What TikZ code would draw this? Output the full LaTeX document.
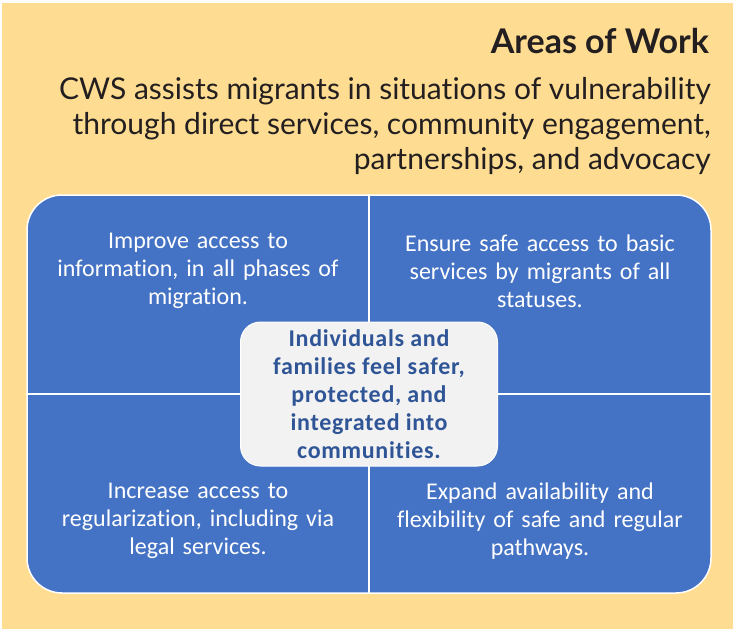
\documentclass[tikz,border=0pt]{standalone}
\usepackage{fontspec}
\setmainfont[Ligatures=NoCommon]{Lato}
\newfontfamily\bodyfont[Ligatures=NoCommon]{Carlito}
\newfontfamily\hubfont[Ligatures=NoCommon, LetterSpace=3]{Carlito}
\usepackage{tikz}
\definecolor{paper}{RGB}{254,220,145}
\definecolor{panelblue}{RGB}{68,114,196}
\definecolor{hubfill}{RGB}{242,242,242}
\definecolor{hubtext}{RGB}{47,85,151}
\definecolor{inkdark}{RGB}{35,31,32}

\begin{document}
\begin{tikzpicture}[x=1pt, y=-1pt]
  \tikzset{quad/.style={align=center, text=white, font=\bodyfont\fontsize{24}{28}\selectfont, text width=330pt},
           hub/.style={draw=white, line width=1pt, fill=hubfill, rounded corners=20pt,
                       minimum width=257pt, minimum height=144pt, align=center,
                       text=hubtext, font=\hubfont\bfseries\fontsize{24}{28}\selectfont}}
  \useasboundingbox (0,0) rectangle (733,629);
  \fill[white] (0,0) rectangle (733,629);
  \fill[paper] (2,3) rectangle (733,629);
  % heading block
  \node[anchor=base east, inner sep=0pt, text=inkdark, font=\bfseries\fontsize{34}{38}\selectfont] (title) at (709,53) {Areas of Work};
  \node[anchor=base east, align=right, inner sep=0pt, text=inkdark, font=\fontsize{30}{35}\selectfont] (intro) at (711,169)
    {CWS assists migrants in situations of vulnerability\\
     through direct services, community engagement,\\
     partnerships, and advocacy};
  % four quadrants
  \node[draw=white, line width=1.5pt, fill=panelblue, rounded corners=35pt,
        minimum width=684pt, minimum height=398pt] (panel) at (369,394) {};
  \draw[white, line width=2pt] (panel.north) -- (panel.south);
  \draw[white, line width=2pt] (panel.west) -- (panel.east);
  \node[quad] (info) at (198,271) {Improve access to\\information, in all phases of\\migration.};
  \node[quad] (basic) at (540,271) {Ensure safe access to basic\\services by migrants of all\\statuses.};
  \node[quad] (legal) at (198,521) {Increase access to\\regularization, including via\\legal services.};
  \node[quad] (paths) at (540,521) {Expand availability and\\flexibility of safe and regular\\pathways.};
  % goal in the middle
  \node[hub] (goal) at (369,394) {Individuals and\\families feel safer,\\protected, and\\integrated into\\communities.};
\end{tikzpicture}
\end{document}
